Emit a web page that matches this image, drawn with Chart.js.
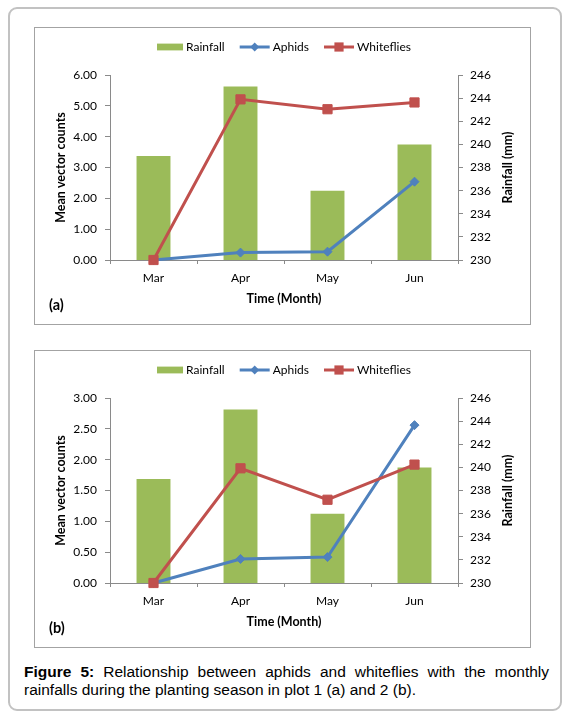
<!DOCTYPE html>
<html><head><meta charset="utf-8">
<script src="https://cdn.jsdelivr.net/npm/chart.js@4.4.1/dist/chart.umd.min.js"></script>
<style>
html,body{margin:0;padding:0;background:#fff;}
#page{position:relative;width:571px;height:720px;overflow:hidden;background:#fff;}
#outer{position:absolute;left:8px;top:7px;width:554px;height:704px;border:2px solid #c2c2c2;border-radius:9px;box-sizing:border-box;}
.box{position:absolute;left:34px;width:497px;height:298px;border:1px solid #a3a3a3;box-sizing:border-box;pointer-events:none;}
canvas.c{position:absolute;left:34px;}
#caption{position:absolute;left:24px;top:663px;width:525px;font-family:"Liberation Sans",Arial,sans-serif;font-size:15.5px;line-height:18px;text-align:justify;color:#000;}
</style></head>
<body>
<div id="page">
  <div id="outer"></div>
  <canvas class="c" id="ca" width="497" height="298" style="top:27px"></canvas>
  <div class="box" style="top:27px"></div>
  <canvas class="c" id="cb" width="497" height="298" style="top:350px"></canvas>
  <div class="box" style="top:350px"></div>
  <div id="caption"><b>Figure 5:</b> Relationship between aphids and whiteflies with the monthly rainfalls during the planting season in plot 1 (a) and 2 (b).</div>
</div>
<script>
const months = ['Mar', 'Apr', 'May', 'Jun'];
const rainfall = [239, 245, 236, 240];
const aphidsA = [0, 0.24, 0.27, 2.54];
const whitefliesA = [0, 5.21, 4.89, 5.11];
const aphidsB = [0, 0.39, 0.42, 2.56];
const whitefliesB = [0, 1.86, 1.35, 1.92];
const leftTicksA = [0, 1, 2, 3, 4, 5, 6];
const leftTicksB = [0, 0.5, 1, 1.5, 2, 2.5, 3];
const rightTicks = [230, 232, 234, 236, 238, 240, 242, 244, 246];
const seriesNames = ['Rainfall', 'Aphids', 'Whiteflies'];
const colors = { rain: '#9BBB59', aph: '#4F81BD', wf: '#C0504D' };
const axisGray = '#8a8a8a';
const FONT = 'Lato, "Open Sans", sans-serif';

const overlay = {
  id: 'overlay',
  afterDraw(chart, args, opts) {
    const ctx = chart.ctx, ca = chart.chartArea;
    // right axis title
    ctx.save();
    ctx.font = 'bold 12.5px ' + FONT;
    ctx.fillStyle = '#000';
    ctx.textAlign = 'center'; ctx.textBaseline = 'middle';
    ctx.translate(chart.scales.y1.right - 23.5, (ca.top + ca.bottom) / 2);
    ctx.rotate(-Math.PI / 2);
    ctx.fillText('Rainfall (mm)', 0, 0);
    ctx.restore();
    // panel label
    ctx.save();
    ctx.font = 'bold 14.5px ' + FONT;
    ctx.fillStyle = '#000';
    ctx.textAlign = 'left'; ctx.textBaseline = 'middle';
    ctx.fillText(opts.panel, 15, 278);
    ctx.restore();
    // legend
    ctx.save();
    ctx.font = '12px ' + FONT;
    const dss = chart.data.datasets;
    const items = dss.map(ds => ({ ds, sym: ds.type === 'bar' ? 26 : 30, w: ctx.measureText(ds.label).width }));
    const gapSym = 3, gapItem = 15;
    let total = 0;
    items.forEach((it, i) => { total += it.sym + gapSym + it.w + (i ? gapItem : 0); });
    let x = (ca.left + ca.right) / 2 - total / 2;
    const y = 20;
    items.forEach(it => {
      const ds = it.ds;
      if (ds.type === 'bar') {
        ctx.fillStyle = ds.backgroundColor;
        ctx.fillRect(x, y - 3.4, it.sym, 6.8);
      } else {
        ctx.strokeStyle = ds.borderColor; ctx.lineWidth = 3;
        ctx.beginPath(); ctx.moveTo(x, y); ctx.lineTo(x + it.sym, y); ctx.stroke();
        const cx = x + it.sym / 2;
        ctx.fillStyle = ds.borderColor;
        ctx.beginPath();
        if (ds.pointStyle === 'rectRot') {
          const r = 4.5;
          ctx.moveTo(cx, y - r); ctx.lineTo(cx + r, y); ctx.lineTo(cx, y + r); ctx.lineTo(cx - r, y); ctx.closePath();
        } else {
          ctx.rect(cx - 4.6, y - 4.6, 9.2, 9.2);
        }
        ctx.fill();
      }
      ctx.fillStyle = '#000';
      ctx.textAlign = 'left'; ctx.textBaseline = 'middle';
      ctx.fillText(ds.label, x + it.sym + gapSym, y + 0.5);
      x += it.sym + gapSym + it.w + gapItem;
    });
    ctx.restore();
  }
};

function makeChart(id, aphids, whiteflies, leftTicks, panel) {
  const tickFont = { family: FONT, size: 12 };
  const titleFont = { family: FONT, size: 12.5, weight: 'bold' };
  return new Chart(document.getElementById(id), {
    data: {
      labels: months,
      datasets: [
        { type: 'bar', label: seriesNames[0], data: rainfall, yAxisID: 'y1', backgroundColor: colors.rain,
          borderWidth: 0, categoryPercentage: 1, barPercentage: 0.39, order: 3 },
        { type: 'line', label: seriesNames[1], data: aphids, yAxisID: 'y', borderColor: colors.aph,
          backgroundColor: colors.aph, borderWidth: 3, pointStyle: 'rectRot', pointRadius: 4.5,
          pointBorderWidth: 1, pointBackgroundColor: colors.aph, pointBorderColor: colors.aph,
          tension: 0, clip: false, order: 2 },
        { type: 'line', label: seriesNames[2], data: whiteflies, yAxisID: 'y', borderColor: colors.wf,
          backgroundColor: colors.wf, borderWidth: 3, pointStyle: 'rect', pointRadius: 6.5,
          pointBorderWidth: 1, pointBackgroundColor: colors.wf, pointBorderColor: colors.wf,
          tension: 0, clip: false, order: 1 }
      ]
    },
    options: {
      responsive: false, animation: false, devicePixelRatio: 1,
      layout: { padding: { top: 48, left: 0, right: 0, bottom: 0 } },
      plugins: { legend: { display: false }, tooltip: { enabled: false }, overlay: { panel } },
      scales: {
        x: {
          type: 'category', offset: true,
          grid: { offset: true, drawOnChartArea: false, drawTicks: true, tickLength: 4, color: axisGray },
          border: { color: axisGray, width: 1 },
          ticks: { font: tickFont, color: '#000', padding: 7 },
          title: { display: true, text: 'Time (Month)', font: titleFont, color: '#000', padding: { top: 0, bottom: 19 } },
          afterFit(s) { s.height = 65; }
        },
        y: {
          position: 'left', min: leftTicks[0], max: leftTicks[leftTicks.length - 1],
          afterBuildTicks(s) { s.ticks = leftTicks.map(v => ({ value: v })); },
          grid: { drawOnChartArea: false, drawTicks: true, tickLength: 5, color: axisGray },
          border: { color: axisGray, width: 1 },
          ticks: { font: tickFont, color: '#000', padding: 8, callback: v => Number(v).toFixed(2) },
          title: { display: true, text: 'Mean vector counts', font: titleFont, color: '#000', padding: { top: 19, bottom: 0 } },
          afterFit(s) { s.width = 76; }
        },
        y1: {
          position: 'right', min: rightTicks[0], max: rightTicks[rightTicks.length - 1],
          afterBuildTicks(s) { s.ticks = rightTicks.map(v => ({ value: v })); },
          grid: { drawOnChartArea: false, drawTicks: true, tickLength: 5, color: axisGray },
          border: { color: axisGray, width: 1 },
          ticks: { font: tickFont, color: '#000', padding: 7 },
          afterFit(s) { s.width = 73; }
        }
      }
    },
    plugins: [overlay]
  });
}

function go() {
  makeChart('ca', aphidsA, whitefliesA, leftTicksA, '(a)');
  makeChart('cb', aphidsB, whitefliesB, leftTicksB, '(b)');
}
if (document.fonts && document.fonts.load) {
  Promise.all([document.fonts.load('12px Lato'), document.fonts.load('bold 12px Lato')]).then(go, go);
} else { go(); }
</script>
</body></html>
